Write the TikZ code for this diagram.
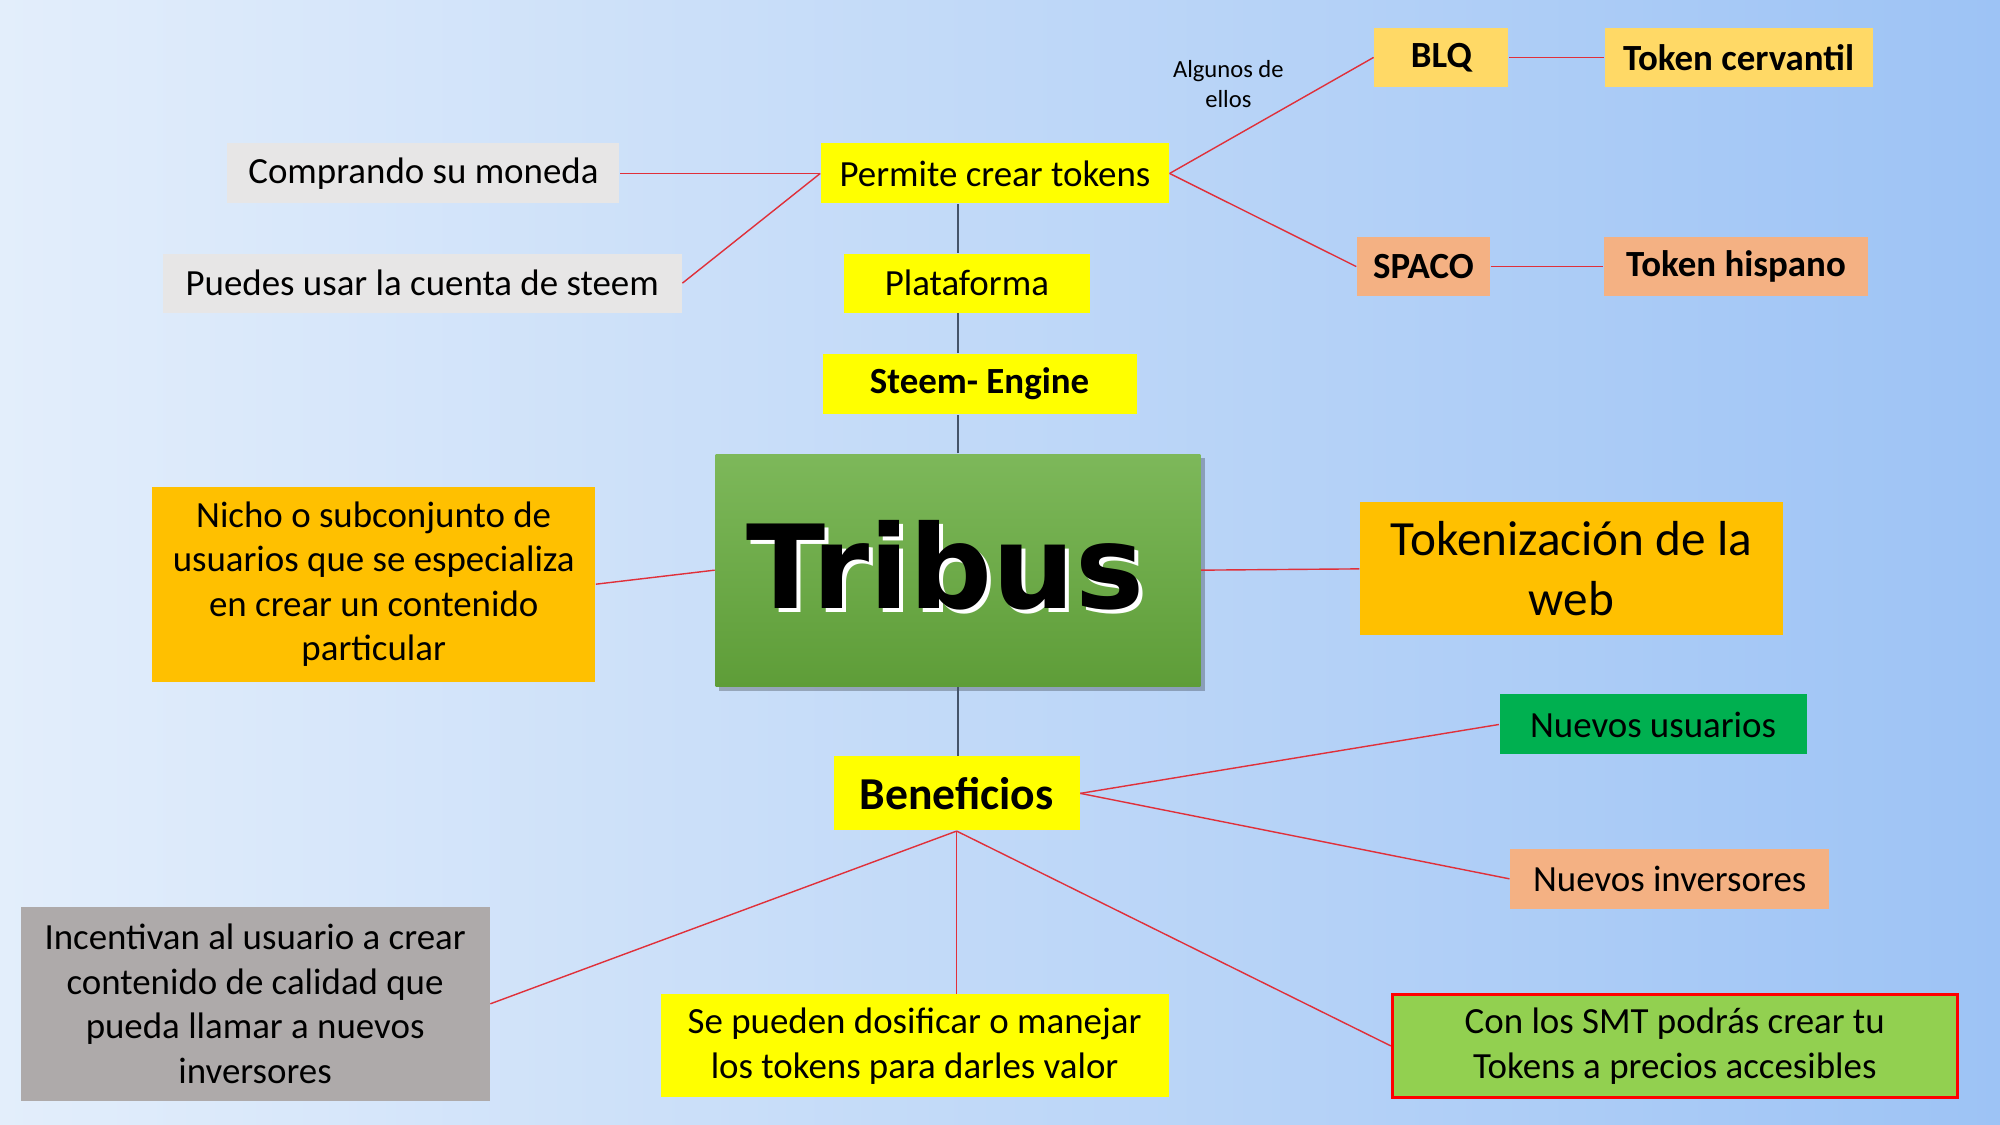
\documentclass[tikz,border=0pt]{standalone}
\usepackage{fontspec}
\setmainfont{Carlito}
\newfontfamily\heavyfont{DejaVu Sans}
\usetikzlibrary{positioning}
\definecolor{bgleft}{HTML}{E3EEFB}
\definecolor{bgright}{HTML}{9DC3F5}
\definecolor{yel}{HTML}{FFFF00}
\definecolor{lgray}{HTML}{E7E6E6}
\definecolor{dgray}{HTML}{AEAAAA}
\definecolor{gold}{HTML}{FFD966}
\definecolor{salmon}{HTML}{F4B183}
\definecolor{amber}{HTML}{FFC000}
\definecolor{grn}{HTML}{00B050}
\definecolor{lgrn}{HTML}{92D050}
\definecolor{gtop}{HTML}{7DB85A}
\definecolor{gbot}{HTML}{5E9D38}
\definecolor{bline}{HTML}{44546A}
\definecolor{rline}{HTML}{E0303A}
\tikzset{
  box/.style={inner sep=0pt, align=center, font=\fontsize{10.5}{12.7}\selectfont},
  boldbox/.style={box, font=\fontsize{10.5}{12.7}\selectfont\bfseries},
  redline/.style={draw=rline, line width=0.4pt},
  blueline/.style={draw=bline, line width=0.5pt}
}
\begin{document}
\begin{tikzpicture}[x=0.0127551cm,y=-0.0127551cm]
\shade[left color=bgleft,right color=bgright] (0,0) rectangle (1568,882);
\useasboundingbox (0,0) rectangle (1568,882);

% central node
\fill[black,opacity=0.25] (564,359) rectangle (945,542);
\shade[top color=gtop, bottom color=gbot] (561,356) rectangle (941,538);
\node[inner sep=0pt, minimum width=4.85cm, minimum height=2.32cm] (tribus) at (751,447) {};
\node[white] at (744,446) {\heavyfont\bfseries\fontsize{33}{33}\selectfont Tribus};
\node at (741,443) {\heavyfont\bfseries\fontsize{33}{33}\selectfont Tribus};

% upper branch
\node[boldbox, fill=yel, minimum width=3.14cm, minimum height=0.6cm] (steem) at (768,301) {Steem- Engine};
\node[box, fill=yel, minimum width=2.46cm, minimum height=0.59cm] (plat) at (758,222) {Plataforma};
\node[box, fill=yel, minimum width=3.48cm, minimum height=0.6cm] (permite) at (780,136) {Permite crear tokens};
\node[box, fill=lgray, minimum width=3.92cm, minimum height=0.6cm] (compra) at (332,136) {Comprando su moneda};
\node[box, fill=lgray, minimum width=5.19cm, minimum height=0.59cm] (puedes) at (331,222) {Puedes usar la cuenta de steem};
\node[align=center, font=\fontsize{7}{8.5}\selectfont] (algunos) at (963,66) {Algunos de\\ellos};
\node[boldbox, fill=gold, minimum width=1.34cm, minimum height=0.59cm] (blq) at (1130,45) {BLQ};
\node[boldbox, fill=gold, minimum width=2.68cm, minimum height=0.59cm] (cervantil) at (1363,45) {Token cervantil};
\node[boldbox, fill=salmon, minimum width=1.33cm, minimum height=0.59cm] (spaco) at (1116,209) {SPACO};
\node[boldbox, fill=salmon, minimum width=2.64cm, minimum height=0.59cm] (hispano) at (1361,209) {Token hispano};

% sides
\node[box, fill=amber, minimum width=4.43cm, minimum height=1.95cm] (nicho) at (293,458) {Nicho o subconjunto de\\usuarios que se especializa\\en crear un contenido\\particular};
\node[box, fill=amber, minimum width=4.23cm, minimum height=1.33cm, font=\fontsize{14}{17}\selectfont] (tokeniz) at (1232,446) {Tokenización de la\\web};

% lower branch
\node[box, fill=yel, minimum width=2.46cm, minimum height=0.74cm, font=\fontsize{13}{15}\selectfont\bfseries] (benef) at (750,622) {Beneficios};
\node[box, fill=grn, minimum width=3.07cm, minimum height=0.6cm] (usuarios) at (1296,568) {Nuevos usuarios};
\node[box, fill=salmon, minimum width=3.19cm, minimum height=0.6cm] (inversores) at (1309,689) {Nuevos inversores};
\node[box, fill=dgray, minimum width=4.69cm, minimum height=1.94cm] (incent) at (200,787) {Incentivan al usuario a crear\\contenido de calidad que\\pueda llamar a nuevos\\inversores};
\node[box, fill=yel, minimum width=5.08cm, minimum height=1.03cm] (dosif) at (717,820) {Se pueden dosificar o manejar\\los tokens para darles valor};
\node[box, fill=lgrn, draw=red, line width=0.8pt, minimum width=5.65cm, minimum height=1.03cm] (smt) at (1313,820) {Con los SMT podrás crear tu\\Tokens a precios accesibles};

% connectors
\draw[blueline] (tribus.north) -- (steem.south -| tribus.north);
\draw[blueline] (steem.north -| tribus.north) -- (plat.south -| tribus.north);
\draw[blueline] (plat.north -| tribus.north) -- (permite.south -| tribus.north);
\draw[blueline] (tribus.south) -- (benef.north -| tribus.south);
\draw[redline] (permite.west) -- (compra.east);
\draw[redline] (permite.west) -- (puedes.east);
\draw[redline] (permite.east) -- (blq.west);
\draw[redline] (permite.east) -- (spaco.west);
\draw[redline] (blq) -- (cervantil);
\draw[redline] (spaco) -- (hispano);
\draw[redline] (nicho.east) -- (tribus.west);
\draw[redline] (tribus.east) -- (tokeniz.west);
\draw[redline] (benef.east) -- (usuarios.west);
\draw[redline] (benef.east) -- (inversores.west);
\draw[redline] (benef.south) -- (incent.east);
\draw[redline] (benef.south) -- (dosif.north -| benef.south);
\draw[redline] (benef.south) -- (smt.west);
\end{tikzpicture}
\end{document}
